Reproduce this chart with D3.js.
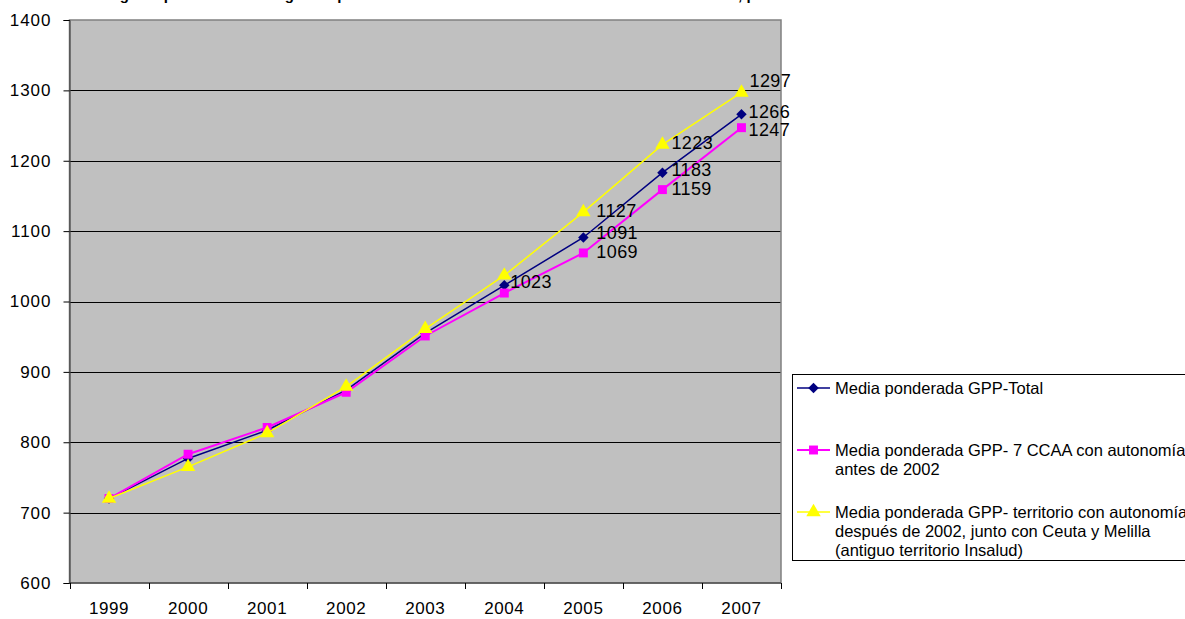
<!DOCTYPE html>
<html>
<head>
<meta charset="utf-8">
<script src="https://cdn.jsdelivr.net/npm/d3@7"></script>
<style>
  html, body { margin: 0; padding: 0; background: #fff; }
  svg { display: block; font-family: "Liberation Sans", Arial, sans-serif; }
</style>
</head>
<body>
<svg id="chart" width="1185" height="619"></svg>
<script>
// Years on the category axis
const years = ["1999", "2000", "2001", "2002", "2003", "2004", "2005", "2006", "2007"];

// Weighted average GPP, all territories
const totalValues = [720, 777, 817, 874, 955, 1023, 1091, 1183, 1266];
// Weighted average GPP, 7 regions with devolved powers before 2002
const before2002Values = [720, 783, 821, 871, 951, 1012, 1069, 1159, 1247];
// Weighted average GPP, regions with devolved powers after 2002 plus Ceuta and Melilla
const after2002Values = [720, 765, 813, 879, 961, 1037, 1127, 1223, 1297];

// Years whose value is printed next to the marker, per series
const totalLabelYears = ["2004", "2005", "2006", "2007"];
const before2002LabelYears = ["2005", "2006", "2007"];
const after2002LabelYears = ["2005", "2006", "2007"];

const yTicks = [600, 700, 800, 900, 1000, 1100, 1200, 1300, 1400];

const legendNames = [
  ["Media ponderada GPP-Total"],
  ["Media ponderada GPP- 7 CCAA con autonomía", "antes de 2002"],
  ["Media ponderada GPP- territorio con autonomía", "después de 2002, junto con Ceuta y Melilla", "(antiguo territorio Insalud)"]
];

const titleText = "Evolución del gasto por habitante de gastos por territorio autonómico del Sistema Nacional de Salud, por año";

const series = [
  { key: "total", values: totalValues, labels: totalLabelYears, color: "#000080", width: 1.5, marker: "diamond", size: 70 },
  { key: "before", values: before2002Values, labels: before2002LabelYears, color: "#FF00FF", width: 2, marker: "square", size: 80 },
  { key: "after", values: after2002Values, labels: after2002LabelYears, color: "#FFFF00", width: 1.5, marker: "triangle", size: 90 }
];

// Hand placement of value labels that would otherwise collide
const labelNudge = {
  "after-2007": [-1, -10],
  "before-2007": [-2, 4],
  "total-2007": [-2, -1],
  "total-2006": [0, -1],
  "before-2006": [0, 1],
  "total-2005": [4, -3],
  "before-2005": [4, 0],
  "after-2005": [4, 0],
  "total-2004": [-3, -2]
};

const svg = d3.select("#chart");
const plot = { left: 69.5, right: 781, top: 20, bottom: 583 };

const x = d3.scaleBand().domain(years).range([plot.left, plot.right]);
const y = d3.scaleLinear().domain([600, 1400]).range([plot.bottom, plot.top]);

const symbolFor = {
  diamond: d3.symbolDiamond2 || d3.symbolDiamond,
  square: d3.symbolSquare,
  triangle: d3.symbolTriangle
};

// Title (runs off the top edge)
svg.append("text")
  .attr("x", 18)
  .attr("y", -0.5)
  .attr("font-size", 15)
  .attr("font-weight", "bold")
  .attr("fill", "#000")
  .text(titleText);

// Plot background
svg.append("rect")
  .attr("x", plot.left)
  .attr("y", plot.top)
  .attr("width", plot.right - plot.left)
  .attr("height", plot.bottom - plot.top)
  .attr("fill", "#C0C0C0");

// Horizontal gridlines
svg.append("g")
  .selectAll("line")
  .data(yTicks.filter(d => d > 600 && d < 1400))
  .join("line")
  .attr("x1", plot.left)
  .attr("x2", plot.right)
  .attr("y1", d => Math.round(y(d)) + 0.5)
  .attr("y2", d => Math.round(y(d)) + 0.5)
  .attr("stroke", "#000")
  .attr("stroke-width", 1);

// Plot border
svg.append("rect")
  .attr("x", plot.left)
  .attr("y", plot.top)
  .attr("width", plot.right - plot.left)
  .attr("height", plot.bottom - plot.top)
  .attr("fill", "none")
  .attr("stroke", "#808080")
  .attr("stroke-width", 1.5);

// Y axis
const yAxis = svg.append("g")
  .attr("transform", `translate(${plot.left},0)`)
  .call(d3.axisLeft(y).tickValues(yTicks).tickSize(6).tickPadding(12).tickFormat(d3.format("d")));
yAxis.select(".domain").attr("stroke", "#333");
yAxis.selectAll(".tick line").attr("stroke", "#000");
yAxis.selectAll("text")
  .attr("font-size", 17)
  .attr("letter-spacing", 1)
  .attr("fill", "#000")
  .attr("font-family", "Liberation Sans, Arial, sans-serif");

// X axis: ticks between categories, labels centred on each band
const boundaries = years.map(d => x(d)).concat([x(years[years.length - 1]) + x.bandwidth()]);
const xAxis = svg.append("g");
xAxis.append("line")
  .attr("x1", plot.left).attr("x2", plot.right)
  .attr("y1", plot.bottom).attr("y2", plot.bottom)
  .attr("stroke", "#333");
xAxis.selectAll("line.tk")
  .data(boundaries)
  .join("line")
  .attr("class", "tk")
  .attr("x1", d => Math.round(d) + 0.5)
  .attr("x2", d => Math.round(d) + 0.5)
  .attr("y1", plot.bottom)
  .attr("y2", plot.bottom + 6)
  .attr("stroke", "#000");
xAxis.selectAll("text")
  .data(years)
  .join("text")
  .attr("x", d => x(d) + x.bandwidth() / 2)
  .attr("y", 610)
  .attr("text-anchor", "middle")
  .attr("dominant-baseline", "middle")
  .attr("font-size", 17)
  .attr("letter-spacing", 0.6)
  .attr("fill", "#000")
  .text(d => d);

// Series lines and markers
const cx = d => x(d) + x.bandwidth() / 2;
series.forEach(s => {
  const pts = years.map((yr, i) => ({ year: yr, value: s.values[i] }));
  const line = d3.line().x(d => cx(d.year)).y(d => y(d.value));
  svg.append("path")
    .datum(pts)
    .attr("d", line)
    .attr("fill", "none")
    .attr("stroke", s.color)
    .attr("stroke-width", s.width);
  svg.append("g")
    .selectAll("path")
    .data(pts)
    .join("path")
    .attr("transform", d => `translate(${cx(d.year)},${y(d.value)})`)
    .attr("d", d3.symbol().type(symbolFor[s.marker]).size(s.size))
    .attr("fill", s.color);
});

// Value labels
series.forEach(s => {
  const pts = years.map((yr, i) => ({ year: yr, value: s.values[i] })).filter(d => s.labels.includes(d.year));
  svg.append("g")
    .selectAll("text")
    .data(pts)
    .join("text")
    .attr("x", d => cx(d.year) + 9 + (labelNudge[s.key + "-" + d.year] || [0, 0])[0])
    .attr("y", d => y(d.value) + (labelNudge[s.key + "-" + d.year] || [0, 0])[1])
    .attr("dominant-baseline", "middle")
    .attr("font-size", 18)
    .attr("letter-spacing", 0.4)
    .attr("fill", "#000")
    .text(d => d.value);
});

// Legend
const legend = svg.append("g");
legend.append("rect")
  .attr("x", 792.5).attr("y", 374.5)
  .attr("width", 420).attr("height", 186)
  .attr("fill", "#fff").attr("stroke", "#000").attr("stroke-width", 1);

const legendRows = [388, 450, 512];
series.forEach((s, i) => {
  const ly = legendRows[i];
  legend.append("line")
    .attr("x1", 797).attr("x2", 830)
    .attr("y1", ly).attr("y2", ly)
    .attr("stroke", s.color).attr("stroke-width", s.width);
  legend.append("path")
    .attr("transform", `translate(813.5,${ly})`)
    .attr("d", d3.symbol().type(symbolFor[s.marker]).size(s.size))
    .attr("fill", s.color);
  legend.append("text")
    .attr("x", 835)
    .attr("y", ly)
    .attr("font-size", 16.5)
    .attr("fill", "#000")
    .selectAll("tspan")
    .data(legendNames[i])
    .join("tspan")
    .attr("x", 835)
    .attr("dy", (d, j) => j === 0 ? "0.35em" : 19)
    .text(d => d);
});
</script>
</body>
</html>
